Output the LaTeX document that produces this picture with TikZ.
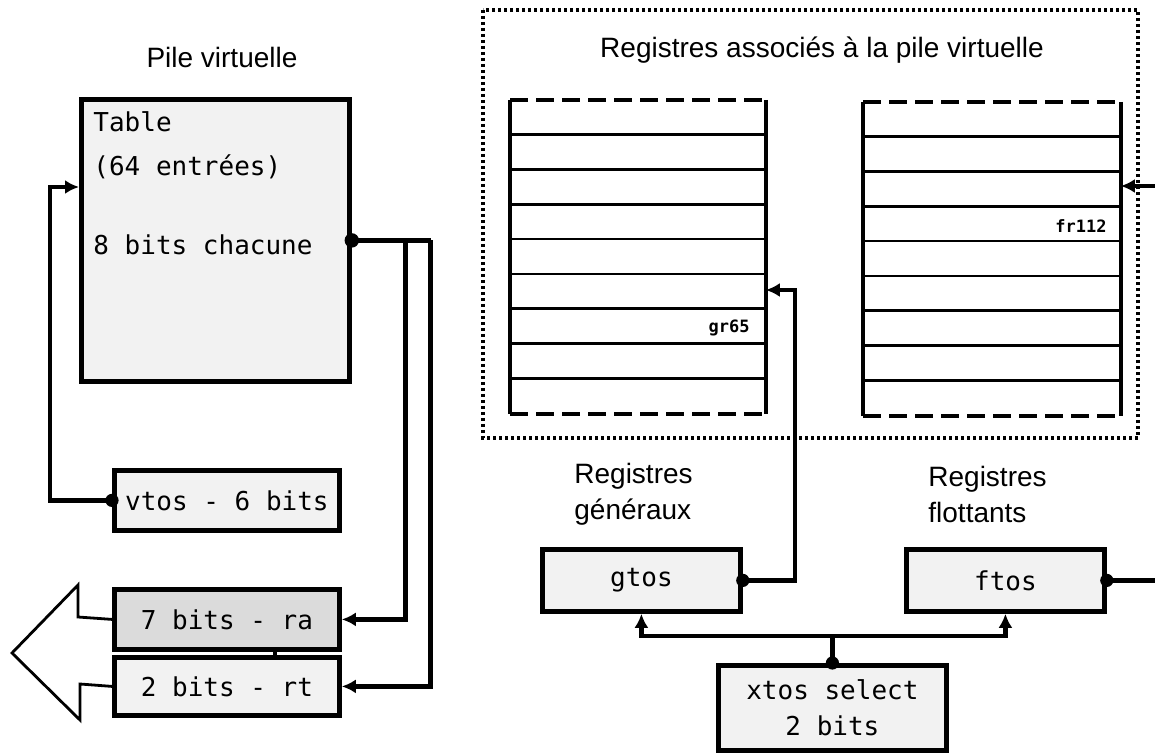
\documentclass[tikz,border=0pt]{standalone}
\usepackage{fontspec}
\setmainfont{Liberation Sans}
\newfontfamily\monof{DejaVu Sans Mono}
\usetikzlibrary{arrows.meta,calc}
\begin{document}
\begin{tikzpicture}[x=0.5pt,y=-0.5pt,
  sans/.style={font=\fontsize{14}{17}\selectfont, inner sep=0pt},
  mono/.style={font=\monof\fontsize{13}{16}\selectfont, inner sep=0pt},
  tiny/.style={font=\monof\bfseries\fontsize{8.5}{10}\selectfont, inner sep=0pt},
  regbox/.style={draw, line width=2.4pt, fill=gray!10, inner sep=0pt, mono},
  conn/.style={line width=2.4pt},
  arr/.style={line width=2.4pt, -{Latex[length=7pt,width=7pt]}},
  regrow/.style={line width=1.3pt},
  regside/.style={line width=2pt},
  regdash/.style={line width=2pt, dash pattern=on 9pt off 4pt},
  dotbox/.style={line width=2.2pt, dash pattern=on 1.3pt off 1.7pt},
  dotmark/.style={fill=black}
]
\useasboundingbox (0,0) rectangle (1155,753);

% ---------- left part ----------
\node[sans] (ttlpile) at (222,57) {Pile virtuelle};
\node[regbox, anchor=north west, minimum width=134pt, minimum height=141pt] (table) at (79,97) {};
\node[mono, anchor=west] (ttab) at (93,122) {Table};
\node[mono, anchor=west] (tent) at (93,167) {(64 entrées)};
\node[mono, anchor=west] (tbit) at (93,245) {8 bits chacune};

\node[regbox, anchor=north west, minimum width=112.5pt, minimum height=30pt] (vtos) at (112,468) {vtos - 6 bits};
\node[regbox, anchor=north west, minimum width=112.5pt, minimum height=30pt, fill=gray!28] (ra) at (112,587) {7 bits - ra};
\node[regbox, anchor=north west, minimum width=112.5pt, minimum height=29pt] (rt) at (112,655) {2 bits - rt};

\coordinate (v1) at (50,187);
\coordinate (b1) at ($(table.east)+(54,0)$);
\coordinate (b2) at ($(table.east)+(79,0)$);
\coordinate (cx) at (275,0);

\draw[arr] (vtos.west) -| (v1) -- (table.west |- v1);
\fill[dotmark] (vtos.west) circle[radius=3.3pt];

\draw[conn] (table.east) -- (b2);
\draw[arr] (b1) |- (ra.east);
\draw[arr] (b2) |- (rt.east);
\fill[dotmark] (table.east) circle[radius=3.6pt];

\draw[conn] (ra.south -| cx) -- (rt.north -| cx);

% big hollow arrow
\draw[line width=1.4pt, line join=miter] (ra.west) -- (78,617) -- (78,585) -- (12,653) -- (80,720) -- (80,684) -- (rt.west);

% ---------- right part ----------
\draw[dotbox] (483,10) rectangle (1138,438);
\node[sans] (ttlreg) at (822,50) {Registres associés à la pile virtuelle};

% general registers table
\node[anchor=north west, minimum width=127.5pt, minimum height=156.5pt, inner sep=0pt] (gtab) at (510,100) {};
\draw[regside] (gtab.north west) -- (gtab.south west);
\draw[regside] (gtab.north east) -- (gtab.south east);
\draw[regdash] (gtab.north west) -- (gtab.north east);
\draw[regdash] (gtab.south west) -- (gtab.south east);
\foreach \i in {1,...,8} {
  \draw[regrow] ($(gtab.north west)+(0,34.78*\i)$) -- ($(gtab.north east)+(0,34.78*\i)$);
}
\node[tiny, anchor=east] (gr) at (750,328) {gr65};

% float registers table
\node[anchor=north west, minimum width=128.5pt, minimum height=156.5pt, inner sep=0pt] (ftab) at (863,102) {};
\draw[regside] (ftab.north west) -- (ftab.south west);
\draw[regside] (ftab.north east) -- (ftab.south east);
\draw[regdash] (ftab.north west) -- (ftab.north east);
\draw[regdash] (ftab.south west) -- (ftab.south east);
\foreach \i in {1,...,8} {
  \draw[regrow] ($(ftab.north west)+(0,34.78*\i)$) -- ($(ftab.north east)+(0,34.78*\i)$);
}
\node[tiny, anchor=east] (fr) at (1107,226) {fr112};

% captions
\node[sans, align=left, anchor=west] (capg) at (574,494) {Registres\\[1pt]généraux};
\node[sans, align=left, anchor=west] (capf) at (928,494) {Registres\\[1pt]flottants};

% tos boxes
\node[regbox, anchor=north west, minimum width=99pt, minimum height=31pt] (gtos) at (540,547) {gtos};
\node[regbox, anchor=north west, minimum width=99pt, minimum height=31pt] (ftos) at (904,547) {ftos};
\node[regbox, anchor=north west, minimum width=114pt, minimum height=42.5pt, align=center] (xtos) at (716,663) {xtos select\\[2pt]2 bits};

\coordinate (g1) at (795,290);
\coordinate (f1) at (1180,0);
\coordinate (f2) at (1180,186);
\coordinate (j) at ($(xtos.north)+(0,-27)$);

\draw[arr] (gtos.east) -| (g1) -- (gtab.east |- g1);
\fill[dotmark] (gtos.east) circle[radius=3.3pt];
\draw[arr] (ftos.east) -- (ftos.east -| f1) -- (f2) -- (ftab.east |- f2);
\fill[dotmark] (ftos.east) circle[radius=3.3pt];

\draw[conn] (xtos.north) -- (j);
\draw[arr] (j) -| (gtos.south);
\draw[arr] (j) -| (ftos.south);
\fill[dotmark] (xtos.north) circle[radius=3.3pt];
\end{tikzpicture}
\end{document}
